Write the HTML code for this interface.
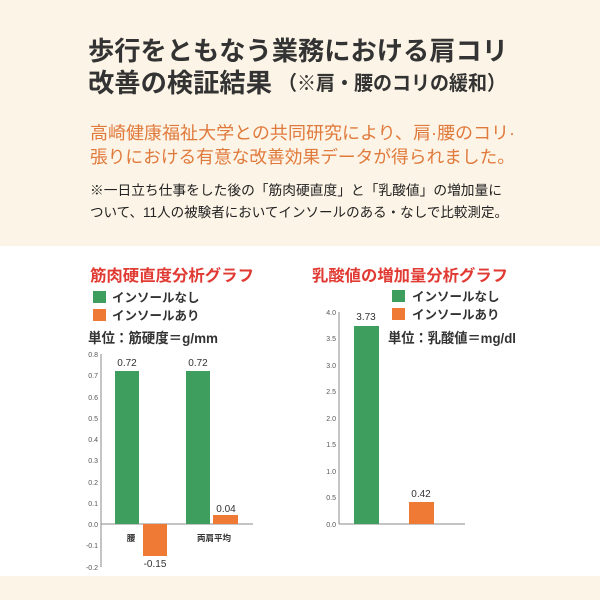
<!DOCTYPE html>
<html><head><meta charset="utf-8"><style>
html,body{margin:0;padding:0;background:#fff}
svg{display:block}
text{font-family:"Liberation Sans","Noto Sans CJK JP",sans-serif}
</style></head><body>
<svg width="600" height="600" viewBox="0 0 600 600" xmlns="http://www.w3.org/2000/svg">
<rect width="600" height="600" fill="#fff"/>
<rect width="600" height="246" fill="#fcf4e6"/>
<rect y="576" width="600" height="24" fill="#fcf4e6"/>
<g fill="#333" font-weight="bold">
<text x="88" y="60" font-size="26" textLength="420" lengthAdjust="spacingAndGlyphs">歩行をともなう業務における肩コリ</text>
<text x="88" y="92" font-size="26" textLength="184" lengthAdjust="spacingAndGlyphs">改善の検証結果</text>
<text x="278" y="90" font-size="20" textLength="228" lengthAdjust="spacingAndGlyphs">（※肩・腰のコリの緩和）</text>
</g>
<g fill="#e07a3c" font-size="17.5">
<text x="90" y="139" textLength="425" lengthAdjust="spacingAndGlyphs">高崎健康福祉大学との共同研究により、肩·腰のコリ·</text>
<text x="90" y="163" textLength="425" lengthAdjust="spacingAndGlyphs">張りにおける有意な改善効果データが得られました。</text>
</g>
<g fill="#222" font-size="13.5">
<text x="90" y="195" textLength="412" lengthAdjust="spacingAndGlyphs">※一日立ち仕事をした後の「筋肉硬直度」と「乳酸値」の増加量に</text>
<text x="90" y="217" textLength="418" lengthAdjust="spacingAndGlyphs">ついて、11人の被験者においてインソールのある・なしで比較測定。</text>
</g>
<!-- Left chart -->
<text x="90" y="281" font-size="16" font-weight="bold" fill="#e03a33" textLength="164" lengthAdjust="spacingAndGlyphs">筋肉硬直度分析グラフ</text>
<rect x="93" y="291" width="13" height="12" fill="#3e9e5e"/>
<rect x="93" y="309" width="13" height="12" fill="#ee7a35"/>
<text x="112" y="302" font-size="12.5" font-weight="bold" fill="#333">インソールなし</text>
<text x="112" y="320" font-size="12.5" font-weight="bold" fill="#333">インソールあり</text>
<text x="88" y="343" font-size="14" font-weight="bold" fill="#333" textLength="130" lengthAdjust="spacingAndGlyphs">単位：筋硬度＝g/mm</text>
<g stroke="#888" stroke-width="1">
<line x1="101" y1="354" x2="101" y2="567"/><line x1="101" y1="524" x2="253" y2="524"/>
</g>
<g font-size="7" fill="#555" text-anchor="end">
<text x="98" y="357">0.8</text><text x="98" y="378">0.7</text><text x="98" y="400">0.6</text><text x="98" y="421">0.5</text><text x="98" y="442">0.4</text><text x="98" y="463">0.3</text><text x="98" y="485">0.2</text><text x="98" y="506">0.1</text><text x="98" y="527">0.0</text><text x="98" y="548">-0.1</text><text x="98" y="570">-0.2</text>
</g>
<rect x="115" y="371" width="24" height="153" fill="#3e9e5e"/>
<rect x="143" y="524" width="24" height="32" fill="#ee7a35"/>
<rect x="186" y="371" width="24" height="153" fill="#3e9e5e"/>
<rect x="213" y="515" width="25" height="9" fill="#ee7a35"/>
<g font-size="10" fill="#333" text-anchor="middle">
<text x="127" y="366">0.72</text><text x="198" y="366">0.72</text><text x="226" y="512">0.04</text><text x="155" y="567">-0.15</text>
<text x="131" y="541" font-size="8.5" font-weight="bold">腰</text><text x="214" y="541" font-size="8.5" font-weight="bold">両肩平均</text>
</g>
<!-- Right chart -->
<text x="312" y="281" font-size="16" font-weight="bold" fill="#e03a33" textLength="196" lengthAdjust="spacingAndGlyphs">乳酸値の増加量分析グラフ</text>
<rect x="392" y="290" width="13" height="12" fill="#3e9e5e"/>
<rect x="392" y="308" width="13" height="12" fill="#ee7a35"/>
<text x="412" y="301" font-size="12.5" font-weight="bold" fill="#333">インソールなし</text>
<text x="412" y="319" font-size="12.5" font-weight="bold" fill="#333">インソールあり</text>
<text x="388" y="343" font-size="14" font-weight="bold" fill="#333" textLength="128" lengthAdjust="spacingAndGlyphs">単位：乳酸値＝mg/dl</text>
<g stroke="#888" stroke-width="1">
<line x1="339" y1="312" x2="339" y2="524"/><line x1="339" y1="524" x2="465" y2="524"/>
</g>
<g font-size="7" fill="#555" text-anchor="end">
<text x="336" y="315">4.0</text><text x="336" y="341">3.5</text><text x="336" y="368">3.0</text><text x="336" y="394">2.5</text><text x="336" y="421">2.0</text><text x="336" y="447">1.5</text><text x="336" y="474">1.0</text><text x="336" y="500">0.5</text><text x="336" y="527">0.0</text>
</g>
<rect x="354" y="326" width="25" height="198" fill="#3e9e5e"/>
<rect x="409" y="502" width="25" height="22" fill="#ee7a35"/>
<g font-size="10" fill="#333" text-anchor="middle">
<text x="366" y="320">3.73</text><text x="421" y="497">0.42</text>
</g>
</svg>
</body></html>
